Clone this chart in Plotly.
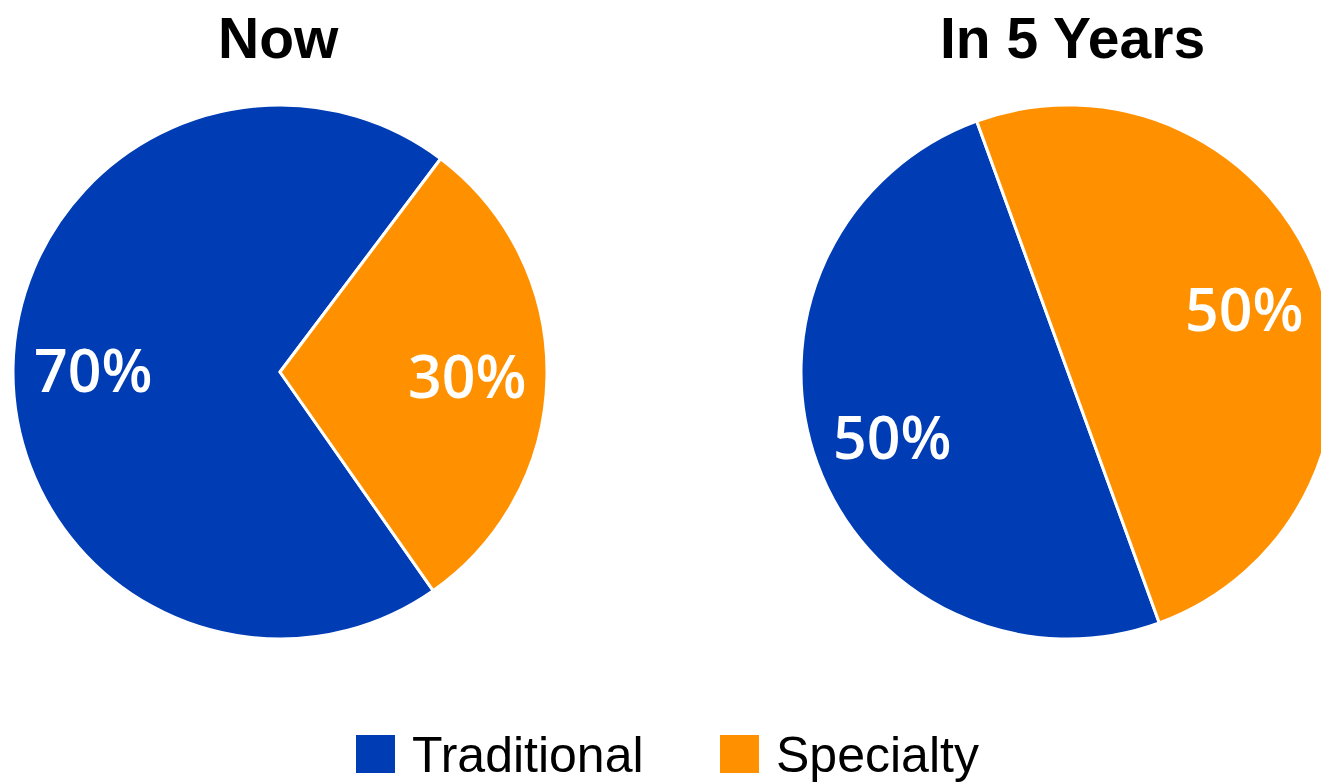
import math
import plotly.graph_objects as go

labels = ["Traditional", "Specialty"]
now_values = [70, 30]
future_values = [50, 50]
titles = ["Now", "In 5 Years"]
colors = ["#003DB5", "#FF9100"]

W, H = 1336, 782

def dx(px):
    return px / W

def dy(py):
    return 1 - py / H

fig = go.Figure()

common = dict(
    labels=labels,
    sort=False,
    direction="clockwise",
    marker=dict(colors=colors, line=dict(color="white", width=3)),
    textinfo="none",
    showlegend=False,
    hoverinfo="label+percent",
)

pies = [
    dict(values=now_values, rotation=145, cx=280, title=titles[0], tx=278),
    dict(values=future_values, rotation=160, cx=1068, title=titles[1], tx=1072),
]
cy, R = 372, 267

annotations = []
for p in pies:
    fig.add_trace(go.Pie(values=p["values"], rotation=p["rotation"],
                         domain=dict(x=[dx(p["cx"] - R), dx(p["cx"] + R)],
                                     y=[dy(cy + R), dy(cy - R)]), **common))
    annotations.append(dict(text="<b>" + p["title"] + "</b>", x=dx(p["tx"]), y=dy(38),
                            xref="paper", yref="paper", xanchor="center", yanchor="middle",
                            showarrow=False,
                            font=dict(family="Liberation Sans, Arial, sans-serif", size=57, color="black")))
    # percentage labels placed at slice mid-angle, derived from the data
    total = sum(p["values"])
    start = p["rotation"]
    for v in p["values"]:
        span = 360 * v / total
        mid = math.radians(start + span / 2)
        start += span
        lx = p["cx"] + 0.70 * R * math.sin(mid)
        ly = cy - 0.70 * R * math.cos(mid)
        annotations.append(dict(text=f"{round(100 * v / total)}%", x=dx(lx), y=dy(ly),
                                xref="paper", yref="paper", xanchor="center", yanchor="middle",
                                showarrow=False,
                                font=dict(family="Open Sans, Liberation Sans, sans-serif",
                                          size=59, color="white", weight=600)))

shapes = []
sq = [(356, 395), (720, 759)]
txt_x = [410, 774]
for lab, col, (x0, x1), tx in zip(labels, colors, sq, txt_x):
    shapes.append(dict(type="rect", xref="paper", yref="paper",
                       x0=dx(x0), x1=dx(x1), y0=dy(773), y1=dy(735),
                       fillcolor=col, line=dict(width=0)))
    annotations.append(dict(text=lab, x=dx(tx), y=dy(755), xref="paper", yref="paper",
                            xanchor="left", yanchor="middle", showarrow=False,
                            font=dict(family="Liberation Sans, Arial, sans-serif",
                                      size=50, color="black")))

fig.update_layout(
    width=W, height=H,
    margin=dict(l=0, r=0, t=0, b=0),
    paper_bgcolor="white",
    plot_bgcolor="white",
    annotations=annotations,
    shapes=shapes,
)

fig.write_html("out.html")
